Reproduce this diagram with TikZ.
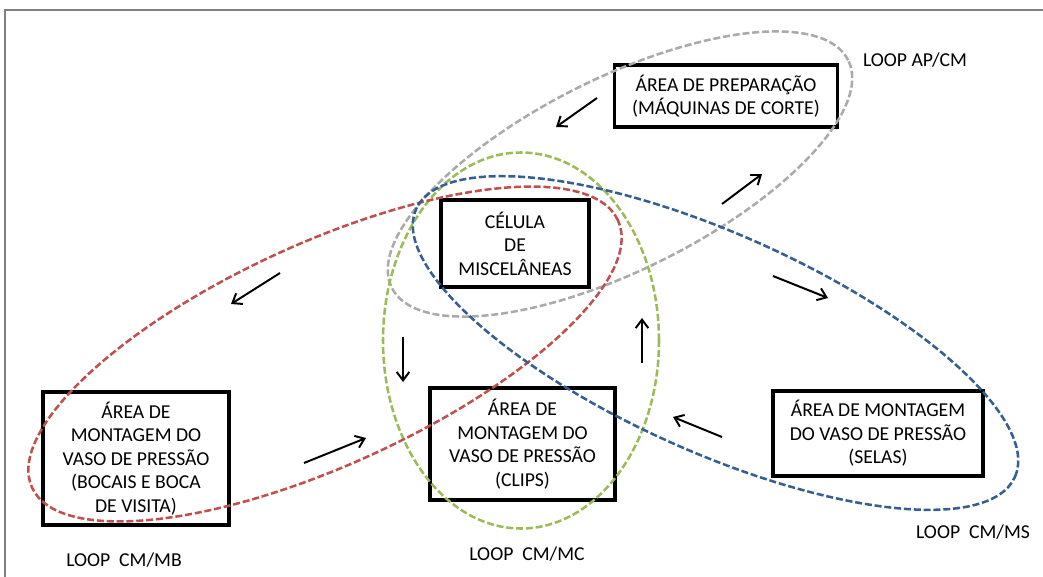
\documentclass[tikz,border=0pt]{standalone}
\usepackage{fontspec}
\setmainfont{Carlito}
\usetikzlibrary{arrows.meta}
\definecolor{loopred}{RGB}{192,80,77}
\definecolor{loopblue}{RGB}{54,95,145}
\definecolor{loopgreen}{RGB}{155,187,89}
\definecolor{loopgray}{RGB}{170,170,170}
\definecolor{framegray}{RGB}{128,128,128}

\begin{document}
\begin{tikzpicture}[x=0.025cm,y=0.025cm,
  areabox/.style={draw,line width=2.4pt,align=center,inner sep=0pt,font=\fontsize{14}{16.7}\selectfont},
  loopline/.style={dash pattern=on 5pt off 2pt,line width=1.8pt},
  seta/.style={-{Straight Barb[length=6pt,width=9pt]},line width=1.4pt},
  looptext/.style={font=\fontsize{14}{16.7}\selectfont}]
\useasboundingbox (0,0) rectangle (1043,-577);
\draw[framegray,line width=1.5pt] (5,-577) -- (5,-10) -- (1043,-10);

\node[areabox,minimum width=5.575cm,minimum height=1.55cm] (prep) at (726,-96) {ÁREA DE PREPARAÇÃO\\(MÁQUINAS DE CORTE)};
\node[areabox,minimum width=3.7cm,minimum height=2.175cm] (cel) at (515,-243.5) {CÉLULA\\DE\\MISCELÂNEAS};
\node[areabox,minimum width=4.65cm,minimum height=3.325cm] (mb) at (136,-458.5) {ÁREA DE\\MONTAGEM DO\\VASO DE PRESSÃO\\(BOCAIS E BOCA\\DE VISITA)};
\node[areabox,minimum width=4.625cm,minimum height=2.8cm] (mc) at (522.5,-444) {ÁREA DE\\MONTAGEM DO\\VASO DE PRESSÃO\\(CLIPS)};
\node[areabox,minimum width=5.25cm,minimum height=2.125cm] (ms) at (878,-433.5) {ÁREA DE MONTAGEM\\DO VASO DE PRESSÃO\\(SELAS)};

\draw[loopline,loopgray,rotate around={26.5:(620,-174)}] (620,-174) ellipse [x radius=255, y radius=96];
\draw[loopline,loopgreen] (521,-340.5) ellipse [x radius=138, y radius=188];
\draw[loopline,loopred,rotate around={24.5:(325,-354)}] (325,-354) ellipse [x radius=322, y radius=111];
\draw[loopline,loopblue,rotate around={-24.1:(715.5,-343)}] (715.5,-343) ellipse [x radius=328, y radius=109];

\node[looptext] (apcm) at (915,-60) {LOOP AP/CM};
\node[looptext] (cmmb) at (124,-560) {LOOP~~CM/MB};
\node[looptext] (cmmc) at (527,-554) {LOOP~~CM/MC};
\node[looptext] (cmms) at (973,-532) {LOOP~~CM/MS};

\coordinate (s1a) at (597,-98);  \coordinate (s1b) at (556,-127);
\coordinate (s2a) at (280,-273); \coordinate (s2b) at (231,-304);
\coordinate (s3a) at (403,-337); \coordinate (s3b) at (403,-382);
\coordinate (s4a) at (304,-463); \coordinate (s4b) at (366,-438);
\coordinate (s5a) at (642,-363); \coordinate (s5b) at (642,-318);
\coordinate (s6a) at (722,-204); \coordinate (s6b) at (762,-174);
\coordinate (s7a) at (773,-276); \coordinate (s7b) at (828,-298);
\coordinate (s8a) at (722,-437); \coordinate (s8b) at (673,-417);
\foreach \s in {1,...,8}
  \draw[seta] (s\s a) -- (s\s b);
\end{tikzpicture}
\end{document}
